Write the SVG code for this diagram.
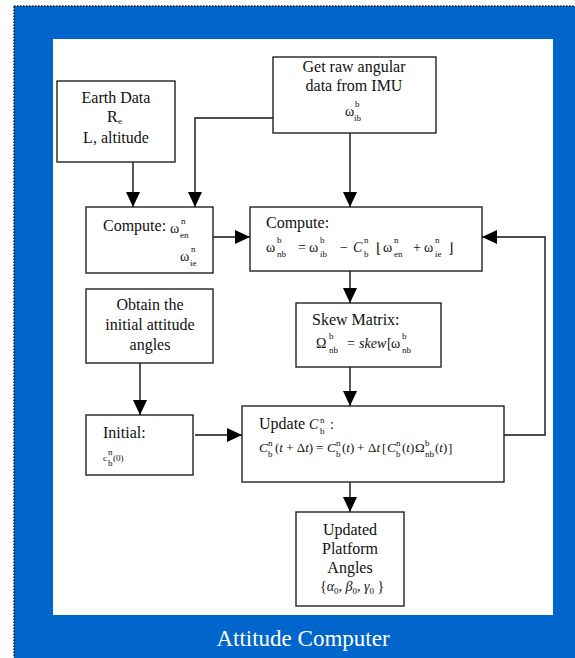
<svg xmlns="http://www.w3.org/2000/svg" width="575" height="658" viewBox="0 0 575 658">
<style>
.t{font-family:"Liberation Serif","Times New Roman",serif;font-size:16px;fill:#111}
.c{text-anchor:middle}
.m{font-family:"Liberation Serif","Times New Roman",serif;font-size:14px;fill:#111}
.e{font-family:"Liberation Serif","Times New Roman",serif;font-size:13px;fill:#111}
.i{font-style:italic}
.s{font-family:"Liberation Serif","Times New Roman",serif;font-size:9px;fill:#111}
.box{fill:#fff;stroke:#222;stroke-width:1.4}
.ln{fill:none;stroke:#111;stroke-width:1.4}
.title{font-family:"Liberation Serif","Times New Roman",serif;font-size:23px;fill:#fff;text-anchor:middle}
</style>
<defs>
<marker id="ah" markerUnits="userSpaceOnUse" markerWidth="16" markerHeight="16" refX="15" refY="7" orient="auto">
<path d="M0,0 L15,7 L0,14 Z" fill="#000"/>
</marker>
</defs>
<rect x="14" y="6" width="600" height="700" fill="#0066cc" stroke="#222" stroke-width="1.5" stroke-dasharray="1.5 1.5"/>
<rect x="53" y="39" width="500" height="576" fill="#fff"/>
<text class="title" x="303" y="646">Attitude Computer</text>

<g id="connectors">
<path class="ln" d="M133,162 V207" marker-end="url(#ah)"/>
<path class="ln" d="M273,118 H195 V207" marker-end="url(#ah)"/>
<path class="ln" d="M350,133 V207" marker-end="url(#ah)"/>
<path class="ln" d="M213,237 H250" marker-end="url(#ah)"/>
<path class="ln" d="M350,271 V303" marker-end="url(#ah)"/>
<path class="ln" d="M350,367 V406" marker-end="url(#ah)"/>
<path class="ln" d="M140,363 V415" marker-end="url(#ah)"/>
<path class="ln" d="M195,435 H242" marker-end="url(#ah)"/>
<path class="ln" d="M504,435 H545 V237 H482" marker-end="url(#ah)"/>
<path class="ln" d="M350,482 V512" marker-end="url(#ah)"/>
</g>

<g id="earth">
<rect class="box" x="57" y="81" width="118" height="81"/>
<text class="t c" x="116" y="103">Earth Data</text>
<text class="t" x="107" y="122">R</text><text class="s" x="118" y="124">e</text>
<text class="t c" x="116" y="143">L, altitude</text>
</g>

<g id="imu">
<rect class="box" x="273" y="57" width="163" height="76"/>
<text class="t c" x="354" y="72">Get raw angular</text>
<text class="t c" x="354" y="91">data from IMU</text>
<text class="m" x="345" y="116">ω</text><text class="s" x="355" y="107">b</text><text class="s" x="354" y="121">ib</text>
</g>

<g id="compute1">
<rect class="box" x="86" y="207" width="127" height="66"/>
<text class="t" x="103" y="231">Compute:</text>
<text class="m" x="170" y="233">ω</text><text class="s" x="181" y="224">n</text><text class="s" x="180" y="238">en</text>
<text class="m" x="180" y="261">ω</text><text class="s" x="191" y="252">n</text><text class="s" x="190" y="266">ie</text>
</g>

<g id="compute2">
<rect class="box" x="250" y="207" width="232" height="64"/>
<text class="t" x="266" y="228">Compute:</text>
<text class="m" x="266" y="252">ω</text><text class="s" x="277" y="243">b</text><text class="s" x="277" y="257">nb</text>
<text class="m" x="298" y="252">=</text>
<text class="m" x="309" y="252">ω</text><text class="s" x="320" y="243">b</text><text class="s" x="320" y="257">ib</text>
<text class="m" x="340" y="252">−</text>
<text class="m i" x="353" y="252">C</text><text class="s" x="364" y="243">n</text><text class="s" x="364" y="257">b</text>
<text class="m" x="376" y="253">⌊</text>
<text class="m" x="383" y="252">ω</text><text class="s" x="394" y="243">n</text><text class="s" x="394" y="257">en</text>
<text class="m" x="413" y="252">+</text>
<text class="m" x="424" y="252">ω</text><text class="s" x="435" y="243">n</text><text class="s" x="435" y="257">ie</text>
<text class="m" x="448" y="253">⌋</text>
</g>

<g id="skew">
<rect class="box" x="296" y="303" width="145" height="64"/>
<text class="t" x="312" y="325">Skew Matrix:</text>
<text class="m" x="316" y="348">Ω</text><text class="s" x="329" y="339">b</text><text class="s" x="329" y="353">nb</text>
<text class="m" x="347" y="348">=</text>
<text class="m i" x="359" y="348">skew</text>
<text class="m" x="387" y="348">[</text>
<text class="m" x="391" y="348">ω</text><text class="s" x="402" y="339">b</text><text class="s" x="402" y="353">nb</text>
</g>

<g id="obtain">
<rect class="box" x="86" y="289" width="127" height="74"/>
<text class="t c" x="150" y="310">Obtain the</text>
<text class="t c" x="150" y="330">initial attitude</text>
<text class="t c" x="150" y="350">angles</text>
</g>

<g id="initial">
<rect class="box" x="86" y="415" width="107" height="60"/>
<text class="t" x="103" y="438">Initial:</text>
<text class="s" x="103" y="461" font-size="8">c</text><text class="s" x="108" y="455" font-size="6">n</text><text class="s" x="108" y="466" font-size="6">b</text><text class="s" x="113" y="461" font-size="8">(0)</text>
</g>

<g id="update">
<rect class="box" x="242" y="406" width="262" height="76"/>
<text class="t" x="259" y="429">Update</text>
<text class="m i" x="309" y="429">C</text><text class="s" x="320" y="423">n</text><text class="s" x="320" y="434">b</text>
<text class="m" x="330" y="429">:</text>
<text class="e i" x="259" y="452">C</text><text class="s" x="268" y="446">n</text><text class="s" x="268" y="457">b</text>
<text class="e" x="275" y="452">(<tspan class="i">t</tspan> + Δ<tspan class="i">t</tspan>)</text>
<text class="e" x="316" y="452">=</text>
<text class="e i" x="327" y="452">C</text><text class="s" x="336" y="446">n</text><text class="s" x="336" y="457">b</text>
<text class="e" x="342" y="452">(<tspan class="i">t</tspan>)</text>
<text class="e" x="357" y="452">+</text>
<text class="e" x="368" y="452">Δ<tspan class="i">t</tspan></text>
<text class="e" x="382" y="453">[</text>
<text class="e i" x="387" y="452">C</text><text class="s" x="396" y="446">n</text><text class="s" x="396" y="457">b</text>
<text class="e" x="402" y="452">(<tspan class="i">t</tspan>)</text>
<text class="e" x="415" y="452">Ω</text><text class="s" x="425" y="446">b</text><text class="s" x="425" y="457">nb</text>
<text class="e" x="435" y="452">(<tspan class="i">t</tspan>)</text>
<text class="e" x="448" y="453">]</text>
</g>

<g id="platform">
<rect class="box" x="296" y="512" width="108" height="94"/>
<text class="t c" x="350" y="535">Updated</text>
<text class="t c" x="350" y="554">Platform</text>
<text class="t c" x="350" y="573">Angles</text>
<text class="m" x="320" y="591">{<tspan class="i">α</tspan><tspan class="s" dy="3">0</tspan><tspan dy="-3">, </tspan><tspan class="i">β</tspan><tspan class="s" dy="3">0</tspan><tspan dy="-3">, </tspan><tspan class="i">γ</tspan><tspan class="s" dy="3">0</tspan><tspan dy="-3"> }</tspan></text>
</g>
</svg>
